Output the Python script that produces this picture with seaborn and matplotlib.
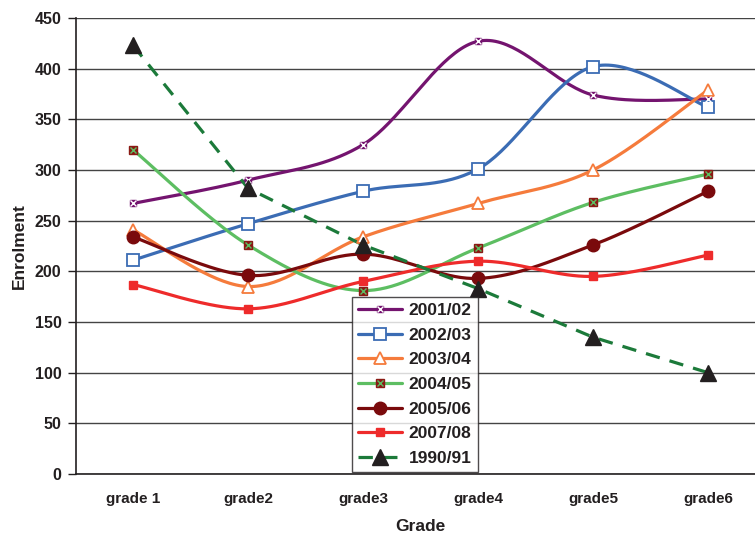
import numpy as np
import pandas as pd
import matplotlib
matplotlib.use("Agg")
import matplotlib.pyplot as plt
from matplotlib.lines import Line2D
import seaborn as sns

grades = ["grade 1", "grade2", "grade3", "grade4", "grade5", "grade6"]
y2001 = [267, 290, 325, 427, 374, 370]
y2002 = [211, 247, 279, 301, 402, 362]
y2003 = [241, 185, 234, 267, 300, 379]
y2004 = [320, 226, 181, 223, 268, 296]
y2005 = [234, 196, 217, 193, 226, 279]
y2007 = [187, 163, 190, 210, 195, 216]
y1990 = [423, 282, 226, 183, 135, 100]
y_ticks = [0, 50, 100, 150, 200, 250, 300, 350, 400, 450]

series = [
    ("2001/02", y2001, "#74146F"),
    ("2002/03", y2002, "#3B6CB4"),
    ("2003/04", y2003, "#F57B3C"),
    ("2004/05", y2004, "#5DBE62"),
    ("2005/06", y2005, "#7A0A0C"),
    ("2007/08", y2007, "#EE2B2B"),
]
c1990 = "#1C7A3A"
ink = "#231F20"


def smooth(vals, n=40):
    """Catmull-Rom style Bezier smoothing through the points."""
    p = np.column_stack([np.arange(len(vals), dtype=float), np.asarray(vals, float)])
    pts = []
    for i in range(len(p) - 1):
        p0 = p[max(i - 1, 0)]
        p1, p2 = p[i], p[i + 1]
        p3 = p[min(i + 2, len(p) - 1)]
        c1 = p1 + (p2 - p0) / 6.0
        c2 = p2 - (p3 - p1) / 6.0
        t = np.linspace(0, 1, n, endpoint=(i == len(p) - 2))[:, None]
        seg = ((1 - t) ** 3) * p1 + 3 * ((1 - t) ** 2) * t * c1 + 3 * (1 - t) * t ** 2 * c2 + t ** 3 * p2
        pts.append(seg)
    return np.vstack(pts)


sns.set_theme(style="white")
plt.rcParams["font.family"] = ["Liberation Sans", "DejaVu Sans"]
plt.rcParams["font.weight"] = "bold"

fig = plt.figure(figsize=(7.55, 5.33), dpi=100)
ax = fig.add_axes([75.5 / 755, 59 / 533, 690 / 755, 456 / 533])

rows = []
for name, vals, col in series:
    s = smooth(vals)
    rows.append(pd.DataFrame({"x": s[:, 0], "y": s[:, 1], "series": name}))
df = pd.concat(rows, ignore_index=True)
palette = {name: col for name, _, col in series}
sns.lineplot(data=df, x="x", y="y", hue="series", palette=palette, sort=False,
             estimator=None, legend=False, linewidth=2.3, ax=ax, zorder=3)

xs = np.arange(len(grades))
# marker styles per series
ax.plot(xs, y2001, ls="none", marker="s", ms=5, mfc="#74146F", mec="#74146F", zorder=5)
ax.plot(xs, y2001, ls="none", marker="x", ms=4, mew=1.0, color="white", zorder=6)
ax.plot(xs, y2002, ls="none", marker="s", ms=8, mfc="white", mec="#3B6CB4", mew=1.3, zorder=5)
ax.plot(xs, y2003, ls="none", marker="^", ms=9, mfc="white", mec="#F57B3C", mew=1.3, zorder=5)
ax.plot(xs, y2004, ls="none", marker="s", ms=5.5, mfc="#8A1A14", mec="#8A1A14", zorder=5)
ax.plot(xs, y2004, ls="none", marker="x", ms=4.5, mew=1.0, color="#5DBE62", zorder=6)
ax.plot(xs, y2005, ls="none", marker="o", ms=9, mfc="#7A0A0C", mec="#7A0A0C", zorder=5)
ax.plot(xs, y2007, ls="none", marker="s", ms=6, mfc="#EE2B2B", mec="#EE2B2B", zorder=5)

d1990 = pd.DataFrame({"x": xs, "y": y1990})
sns.lineplot(data=d1990, x="x", y="y", color=c1990, linewidth=2.3, ax=ax,
             legend=False, zorder=4, dashes=False)
ax.lines[-1].set_dashes((4.5, 3.2))
ax.plot(xs, y1990, ls="none", marker="^", ms=11, mfc=ink, mec=ink, zorder=7)

ax.set_xlim(-0.5, 5.5)
ax.set_ylim(0, 450)
ax.set_yticks(y_ticks)
ax.set_yticklabels([str(v) for v in y_ticks], fontsize=11.5, fontweight="bold", color=ink)
ax.set_xticks(xs)
ax.set_xticklabels(grades, fontsize=11, fontweight="bold", color=ink)
ax.set_xticks(np.arange(-0.5, 5.6, 1.0), minor=True)
ax.tick_params(axis="x", which="major", length=0, pad=13)
ax.tick_params(axis="x", which="minor", length=5, width=1, color=ink, direction="out")
ax.tick_params(axis="y", which="major", length=6, width=1, color=ink, direction="out", pad=4, left=True)

ax.yaxis.grid(True, color="#444444", linewidth=1.0)
ax.xaxis.grid(False)
ax.set_axisbelow(True)
for side in ("top", "right"):
    ax.spines[side].set_visible(False)
for side in ("left", "bottom"):
    ax.spines[side].set_color(ink)
    ax.spines[side].set_linewidth(1.2)

ax.set_xlabel("Grade", fontsize=12.5, fontweight="bold", color=ink, labelpad=9)
ax.set_ylabel("Enrolment", fontsize=12.5, fontweight="bold", color=ink, labelpad=6)

handles = [
    (Line2D([], [], color="#74146F", lw=2.3), Line2D([], [], ls="none", marker="s", ms=5, color="#74146F"),
     Line2D([], [], ls="none", marker="x", ms=4, mew=1.0, color="white")),
    Line2D([], [], color="#3B6CB4", lw=2.3, marker="s", ms=8, mfc="white", mec="#3B6CB4", mew=1.3),
    Line2D([], [], color="#F57B3C", lw=2.3, marker="^", ms=9, mfc="white", mec="#F57B3C", mew=1.3),
    (Line2D([], [], color="#5DBE62", lw=2.3), Line2D([], [], ls="none", marker="s", ms=5.5, color="#8A1A14"),
     Line2D([], [], ls="none", marker="x", ms=4.5, mew=1.0, color="#5DBE62")),
    Line2D([], [], color="#7A0A0C", lw=2.3, marker="o", ms=9),
    Line2D([], [], color="#EE2B2B", lw=2.3, marker="s", ms=6),
    Line2D([], [], color=c1990, lw=2.3, dashes=(4.5, 3.2), marker="^", ms=11, mfc=ink, mec=ink),
]
labels = ["2001/02", "2002/03", "2003/04", "2004/05", "2005/06", "2007/08", "1990/91"]
leg = ax.legend(handles, labels, loc="lower left", bbox_to_anchor=(0.401, 0.004),
                borderaxespad=0, frameon=True, fancybox=False,
                prop={"weight": "bold", "size": 12.5}, handlelength=2.5, handletextpad=0.4,
                labelspacing=0.55, borderpad=0.35)
leg.get_frame().set_edgecolor(ink)
leg.get_frame().set_linewidth(1.0)
leg.set_zorder(10)
for t in leg.get_texts():
    t.set_color(ink)

fig.savefig("out.png", dpi=100)
